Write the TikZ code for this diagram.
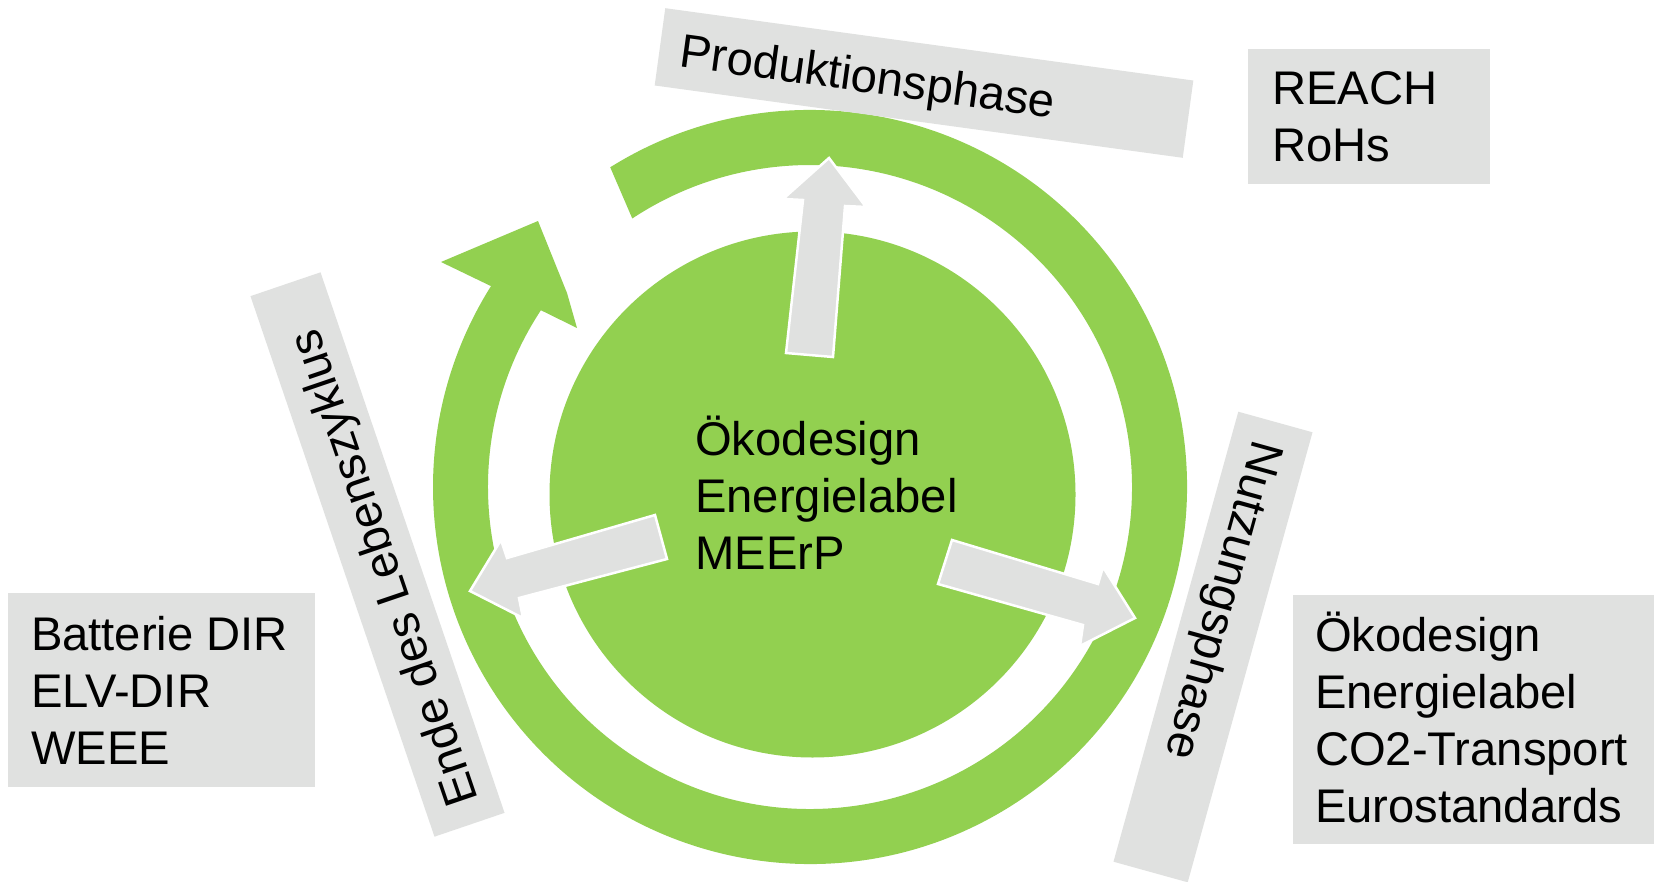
\documentclass[tikz,border=0pt]{standalone}
\usepackage{fontspec}
\setmainfont{Liberation Sans}
\usetikzlibrary{calc}
\definecolor{ringgreen}{RGB}{146,208,80}
\definecolor{boxgray}{RGB}{224,225,224}
\tikzset{
  lbl/.style={font=\fontsize{47.2}{57}\selectfont, text=black, inner sep=0pt},
  graybox/.style={fill=boxgray, inner sep=0pt, draw=none},
  blockarrow/.style={fill=boxgray, draw=white, line width=2.5pt, line join=miter},
}
\begin{document}
\begin{tikzpicture}[x=1pt,y=1pt]
\useasboundingbox (0,0) rectangle (1659,-882);
\fill[white] (0,0) rectangle (1659,-882);

% ring with arrow head
\coordinate (C) at (810,-487);
\coordinate (barbout) at (441,-262);
\coordinate (tip) at (538,-221);
\coordinate (tipbend) at (567,-293);
\coordinate (barbin) at (577,-328);
\fill[ringgreen] ($(C)+(122:377pt)$) arc[start angle=122, end angle=-212.2, radius=377pt]
  -- (barbout) -- (tip) -- (tipbend) -- (barbin)
  -- ($(C)+(146.7:322pt)$) arc[start angle=146.7, end angle=483.5, radius=322pt] -- cycle;

% inner disc
\node[circle, fill=ringgreen, inner sep=0pt, minimum size=526pt] (disk) at (812.5,-494.5) {};

% gray block arrows
\draw[blockarrow] (786,-353) -- (803,-200) -- (783,-199) -- (829,-158) -- (866,-207) -- (845,-206) -- (833,-357) -- cycle;
\draw[blockarrow] (655,-515) -- (667,-559) -- (519,-598) -- (523,-618) -- (470,-591) -- (501,-540) -- (507,-558) -- cycle;
\draw[blockarrow] (952,-540) -- (938,-584) -- (1083,-625) -- (1080,-646) -- (1135,-618) -- (1103,-567) -- (1098,-584) -- cycle;

% centre text
\node[lbl, anchor=west, align=left] (ctext) at (695,-492.5) {Ökodesign\\Energielabel\\MEErP};

% rotated phase boxes
\node[graybox, rotate=-7.8, minimum width=533pt, minimum height=78pt] (prod) at (924,-83) {};
\node[lbl, rotate=-7.8, anchor=west, text depth=0pt] (prodtxt) at ($(prod.west)!21pt!(prod.east)$) {Produktionsphase};

\node[graybox, rotate=108.8, minimum width=571pt, minimum height=74pt] (ende) at (377.5,-554.5) {};
\node[lbl, rotate=108.8, anchor=west, text depth=0pt] (endetxt) at ($(ende.west)!21pt!(ende.east)$) {Ende des Lebenszyklus};

\node[graybox, rotate=-105.5, minimum width=467pt, minimum height=77pt] (nutz) at (1213,-647) {};
\node[lbl, rotate=-105.5, anchor=west, text depth=0pt] (nutztxt) at ($(nutz.west)!22pt!(nutz.east)$) {Nutzungsphase};

% regulation boxes
\node[graybox, minimum width=242pt, minimum height=135pt] (reach) at (1369,-116.5) {};
\node[lbl, anchor=west, align=left] (reachtxt) at ($(reach.west)+(24,0)$) {REACH\\RoHs};

\node[graybox, minimum width=307pt, minimum height=194pt] (batt) at (161.5,-690) {};
\node[lbl, anchor=west, align=left] (batttxt) at ($(batt.west)+(23,0)$) {Batterie DIR\\ELV-DIR\\WEEE};

\node[graybox, minimum width=361pt, minimum height=249pt] (use) at (1473.5,-719.5) {};
\node[lbl, anchor=west, align=left] (usetxt) at ($(use.west)+(22,2.5)$) {Ökodesign\\Energielabel\\CO2-Transport\\Eurostandards};
\end{tikzpicture}
\end{document}
